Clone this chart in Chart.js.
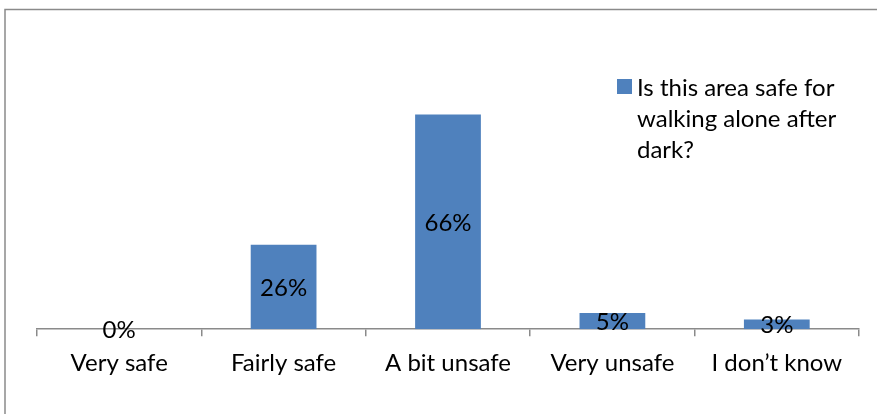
<!DOCTYPE html>
<html>
<head>
<meta charset="utf-8">
<script src="https://cdn.jsdelivr.net/npm/chart.js@4.4.0/dist/chart.umd.min.js"></script>
<style>
  html, body { margin: 0; padding: 0; background: #fff; }
  #wrap { width: 877px; height: 414px; position: relative; }
</style>
</head>
<body>
<div id="wrap"><canvas id="myChart" width="877" height="414"></canvas></div>
<script>
const categories = ['Very safe', 'Fairly safe', 'A bit unsafe', 'Very unsafe', 'I don\u2019t know'];
const percents = [0, 26, 66, 5, 3];
const seriesName = 'Is this area safe for walking alone after dark?';
const legendLines = ['Is this area safe for', 'walking alone after', 'dark?'];

const fontFamily = 'Lato, "Open Sans", sans-serif';
const fontSize = 24;

// frame around the whole chart (runs off right and bottom edge)
const framePlugin = {
  id: 'frame',
  beforeDraw(chart) {
    const ctx = chart.ctx;
    ctx.save();
    ctx.fillStyle = '#fff';
    ctx.fillRect(0, 0, chart.width, chart.height);
    ctx.strokeStyle = '#8a8a8a';
    ctx.lineWidth = 1.5;
    ctx.strokeRect(5, 9.5, 1000, 1000);
    ctx.restore();
  }
};

// value labels centred in each bar
const valueLabels = {
  id: 'valueLabels',
  afterDatasetsDraw(chart) {
    const ctx = chart.ctx;
    const meta = chart.getDatasetMeta(0);
    ctx.save();
    ctx.font = fontSize + 'px ' + fontFamily;
    ctx.fillStyle = '#000';
    ctx.textAlign = 'center';
    ctx.textBaseline = 'middle';
    meta.data.forEach((bar, i) => {
      const y = (bar.y + bar.base) / 2;
      ctx.fillText(percents[i] + '%', bar.x, y + 1);
    });
    ctx.restore();
  }
};

// legend on the right, wrapped over three lines
const wrapLegend = {
  id: 'wrapLegend',
  afterDraw(chart) {
    const ctx = chart.ctx;
    ctx.save();
    ctx.fillStyle = '#4F81BD';
    ctx.fillRect(617, 79, 15, 15);
    ctx.font = fontSize + 'px ' + fontFamily;
    ctx.fillStyle = '#000';
    ctx.textAlign = 'left';
    ctx.textBaseline = 'middle';
    legendLines.forEach((line, i) => {
      ctx.fillText(line, 637, 88 + i * 31);
    });
    ctx.restore();
  }
};

const data = {
  labels: categories,
  datasets: [{
    label: seriesName,
    data: percents,
    backgroundColor: '#4F81BD',
    borderWidth: 0,
    categoryPercentage: 1,
    barPercentage: 0.4
  }]
};

const config = {
  type: 'bar',
  data: data,
  options: {
    responsive: false,
    animation: false,
    layout: { padding: { left: 37, right: 18, top: 69, bottom: 23 } },
    plugins: {
      legend: { display: false },
      tooltip: { enabled: false }
    },
    scales: {
      x: {
        grid: { display: true, drawOnChartArea: false, drawTicks: true, tickLength: 7, color: '#8a8a8a', lineWidth: 1.5 },
        border: { display: true, color: '#8a8a8a', width: 1.5 },
        ticks: { color: '#000', font: { family: fontFamily, size: fontSize }, padding: 13, maxRotation: 0 }
      },
      y: {
        display: false,
        min: 0,
        max: 80
      }
    }
  },
  plugins: [framePlugin, valueLabels, wrapLegend]
};

var myChart = new Chart(document.getElementById('myChart'), config);
</script>
</body>
</html>
